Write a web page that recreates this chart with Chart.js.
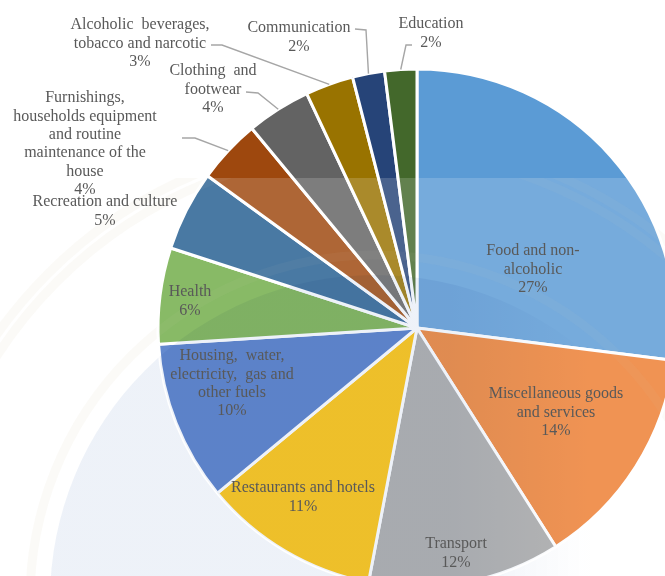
<!DOCTYPE html>
<html>
<head>
<meta charset="utf-8">
<title>Household expenditure shares</title>
<script src="https://cdn.jsdelivr.net/npm/chart.js@4"></script>
<style>
  html, body { margin: 0; padding: 0; background: #fff; width: 665px; height: 576px; overflow: hidden; }
  #wrap { position: relative; width: 665px; height: 576px; overflow: hidden; }
  canvas { position: absolute; left: 0; top: 0; }
</style>
</head>
<body>
<div id="wrap"><canvas id="pie" width="834" height="656"></canvas></div>
<script>
// Expenditure categories, clockwise from twelve o'clock
const categories = [
  'Food and non-alcoholic',
  'Miscellaneous goods and services',
  'Transport',
  'Restaurants and hotels',
  'Housing, water, electricity, gas and other fuels',
  'Health',
  'Recreation and culture',
  'Furnishings, households equipment and routine maintenance of the house',
  'Clothing and footwear',
  'Alcoholic beverages, tobacco and narcotic',
  'Communication',
  'Education'
];
const shares = [27, 14, 12, 11, 10, 6, 5, 4, 4, 3, 2, 2];
const sliceColors = [
  '#5B9BD5', '#ED7D31', '#A5A5A5', '#FFC000', '#4472C4', '#70AD47',
  '#255E91', '#9E480E', '#636363', '#997300', '#264478', '#43682B'
];

// Wrapped label text for each slice
const labelLines = [
  ['Food and non-', 'alcoholic'],
  ['Miscellaneous goods', 'and services'],
  ['Transport'],
  ['Restaurants and hotels'],
  ['Housing,  water,', 'electricity,  gas and', 'other fuels'],
  ['Health'],
  ['Recreation and culture'],
  ['Furnishings,', 'households equipment', 'and routine', 'maintenance of the', 'house'],
  ['Clothing  and', 'footwear'],
  ['Alcoholic  beverages,', 'tobacco and narcotic'],
  ['Communication'],
  ['Education']
];
// Label block placement: centre x, centre y of the first line
const labelAnchors = [
  [533, 251], [556, 394], [456, 544], [303, 488], [232, 356], [190, 292],
  [105, 202], [85, 98], [213, 71], [140, 25], [299, 28], [431, 24]
];
// Leader line routes (label end, elbow) for the slices labelled outside the pie
const leaderRoutes = {
  7: [[182, 138], [195, 138]],
  8: [[246, 92], [258, 93]],
  9: [[211, 45], [222, 45]],
  10: [[355, 29], [366, 30]],
  11: [[412, 45], [406, 45]]
};
const LINE_HEIGHT = 18.4;
const HAZE_TOP = 178;
const SEAL_X = 375;
const SEAL_Y = 600;

function strokeSealRings(ctx, alpha) {
  ctx.strokeStyle = 'rgba(225,218,195,' + alpha + ')';
  ctx.lineWidth = 9;
  [345, 450, 462].forEach(function (r) {
    ctx.beginPath();
    ctx.arc(SEAL_X, SEAL_Y, r, 0, Math.PI * 2);
    ctx.stroke();
  });
}

function fillSealDisc(ctx, alpha) {
  const tint = ctx.createLinearGradient(450, 0, 590, 0);
  tint.addColorStop(0, 'rgba(226,233,244,' + alpha + ')');
  tint.addColorStop(1, 'rgba(226,233,244,0)');
  ctx.fillStyle = tint;
  ctx.beginPath();
  ctx.arc(SEAL_X, SEAL_Y, 325, 0, Math.PI * 2);
  ctx.fill();
}

// Pale seal printed across the page: tinted disc and cream rings
const sealBackdrop = {
  id: 'sealBackdrop',
  beforeDraw(chart) {
    const ctx = chart.ctx;
    ctx.save();
    ctx.beginPath();
    ctx.rect(0, HAZE_TOP, chart.width, chart.height - HAZE_TOP);
    ctx.clip();
    fillSealDisc(ctx, 0.6);
    strokeSealRings(ctx, 0.14);
    ctx.restore();
  }
};

// Translucent veil over the lower part of the slices, then leaders and labels on top
const sliceAnnotations = {
  id: 'sliceAnnotations',
  afterDatasetsDraw(chart) {
    const ctx = chart.ctx;
    const arcs = chart.getDatasetMeta(0).data;

    ctx.save();
    ctx.beginPath();
    ctx.arc(arcs[0].x, arcs[0].y, arcs[0].outerRadius, 0, Math.PI * 2);
    ctx.clip();
    ctx.beginPath();
    ctx.rect(0, HAZE_TOP, chart.width, chart.height - HAZE_TOP);
    ctx.clip();
    ctx.fillStyle = 'rgba(255,255,255,0.17)';
    ctx.fillRect(0, HAZE_TOP, chart.width, chart.height - HAZE_TOP);
    ctx.globalCompositeOperation = 'multiply';
    fillSealDisc(ctx, 0.6);
    ctx.globalCompositeOperation = 'source-over';
    strokeSealRings(ctx, 0.05);
    ctx.restore();

    ctx.strokeStyle = '#A6A6A6';
    ctx.lineWidth = 1.4;
    Object.keys(leaderRoutes).forEach(function (key) {
      const arc = arcs[key];
      const mid = (arc.startAngle + arc.endAngle) / 2;
      const route = leaderRoutes[key];
      ctx.beginPath();
      ctx.moveTo(route[0][0], route[0][1]);
      ctx.lineTo(route[1][0], route[1][1]);
      ctx.lineTo(arc.x + Math.cos(mid) * arc.outerRadius, arc.y + Math.sin(mid) * arc.outerRadius);
      ctx.stroke();
    });

    ctx.font = '16px "Liberation Serif", serif';
    ctx.fillStyle = '#595959';
    ctx.textAlign = 'center';
    ctx.textBaseline = 'middle';
    categories.forEach(function (name, i) {
      const lines = labelLines[i].concat(shares[i] + '%');
      lines.forEach(function (line, n) {
        ctx.fillText(line, labelAnchors[i][0], labelAnchors[i][1] + n * LINE_HEIGHT);
      });
    });
  }
};

new Chart(document.getElementById('pie'), {
  type: 'pie',
  data: {
    labels: categories,
    datasets: [{
      data: shares,
      backgroundColor: sliceColors,
      borderColor: '#FFFFFF',
      borderWidth: 3,
      radius: 259
    }]
  },
  options: {
    responsive: false,
    animation: false,
    layout: { padding: 0 },
    plugins: {
      legend: { display: false },
      tooltip: { enabled: false }
    }
  },
  plugins: [sealBackdrop, sliceAnnotations]
});
</script>
</body>
</html>
